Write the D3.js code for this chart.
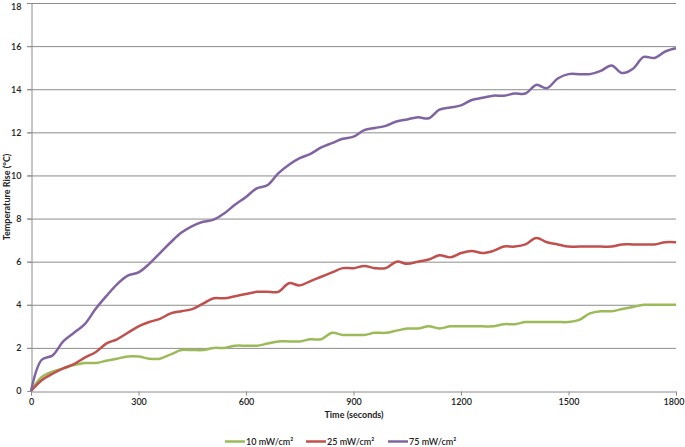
<!DOCTYPE html>
<html><head><meta charset="utf-8">
<script src="https://cdn.jsdelivr.net/npm/d3@7"></script>
<style>body{margin:0;background:#fff}svg{display:block}text{font-family:Lato,"Open Sans",sans-serif;fill:#222}</style>
</head><body><svg id="c" width="685" height="447"></svg>
<script>
const times = d3.range(0, 1801, 30);
const series10 = [0,0.65,0.9,1.05,1.2,1.3,1.3,1.4,1.5,1.6,1.6,1.5,1.5,1.7,1.9,1.9,1.9,2.0,2.0,2.1,2.1,2.1,2.2,2.3,2.3,2.3,2.4,2.4,2.7,2.6,2.6,2.6,2.7,2.7,2.8,2.9,2.9,3.0,2.9,3.0,3.0,3.0,3.0,3.0,3.1,3.1,3.2,3.2,3.2,3.2,3.2,3.3,3.6,3.7,3.7,3.8,3.9,4.0,4.0,4.0,4.0];
const series25 = [0,0.5,0.8,1.05,1.25,1.55,1.8,2.2,2.4,2.7,3.0,3.2,3.35,3.6,3.7,3.8,4.05,4.3,4.3,4.4,4.5,4.6,4.6,4.6,5.0,4.9,5.1,5.3,5.5,5.7,5.7,5.8,5.7,5.7,6.0,5.9,6.0,6.1,6.3,6.2,6.4,6.5,6.4,6.5,6.7,6.7,6.8,7.1,6.9,6.8,6.7,6.7,6.7,6.7,6.7,6.8,6.8,6.8,6.8,6.9,6.9];
const series75 = [0,1.45,1.65,2.3,2.7,3.1,3.8,4.4,4.95,5.35,5.5,5.9,6.4,6.9,7.35,7.65,7.85,7.95,8.25,8.65,9.0,9.4,9.55,10.1,10.5,10.8,11.0,11.3,11.5,11.7,11.8,12.1,12.2,12.3,12.5,12.6,12.7,12.65,13.05,13.15,13.25,13.5,13.6,13.7,13.7,13.8,13.8,14.2,14.05,14.5,14.7,14.7,14.7,14.85,15.1,14.75,14.95,15.5,15.45,15.75,15.9];
const seriesNames = ["10 mW/cm\u00B2","25 mW/cm\u00B2","75 mW/cm\u00B2"];
const seriesColors = ["#9BBB59","#C0504D","#8064A2"];
const xTicks = [0,300,600,900,1200,1500,1800];
const yTicks = [0,2,4,6,8,10,12,14,16,18];

const svg = d3.select("#c");
const x = d3.scaleLinear().domain([0,1800]).range([31,676]);
const y = d3.scaleLinear().domain([0,18]).range([391,3]);
const grid = "#8c8c8c";

svg.append("g").selectAll("line").data(yTicks.slice(1)).join("line")
  .attr("x1",27).attr("x2",676).attr("y1",d=>y(d)+0.5).attr("y2",d=>y(d)+0.5)
  .attr("stroke",grid).attr("stroke-width",1);

const ya = svg.append("g").attr("transform","translate(31.5,0)").call(d3.axisLeft(y).tickValues(yTicks).tickSize(4).tickPadding(6));
ya.select(".domain").attr("stroke",grid);
ya.selectAll(".tick line").attr("stroke",grid);
ya.selectAll(".tick text").attr("font-size",9).attr("font-weight",600).attr("fill","#222")
  .attr("dy",d=>d===18?"0.75em":"0.32em");

const xa = svg.append("g").attr("transform","translate(0,391.5)").call(d3.axisBottom(x).tickValues(xTicks).tickSize(4).tickPadding(3).tickFormat(d3.format("d")));
xa.select(".domain").attr("stroke",grid);
xa.selectAll(".tick line").attr("stroke",grid);
xa.selectAll(".tick text").attr("font-size",9).attr("font-weight",600).attr("fill","#222")
  .attr("text-anchor",d=>d===1800?"end":"middle").attr("dx",d=>d===1800?"8":"0");

const allSeries = [series10, series25, series75];
const line = d3.line().x((d,i)=>x(times[i])).y(d=>y(d)).curve(d3.curveCatmullRom.alpha(0.5));
allSeries.forEach((s,k)=>{
  svg.append("path").attr("d",line(s)).attr("fill","none")
    .attr("stroke",seriesColors[k]).attr("stroke-width",2.5).attr("stroke-linejoin","round");
});

svg.append("text").attr("x",354).attr("y",418).attr("text-anchor","middle")
  .attr("font-size",9).attr("font-weight",700).text("Time (seconds)");
svg.append("text").attr("transform","translate(10,197) rotate(-90)").attr("text-anchor","middle")
  .attr("font-size",9).attr("font-weight",700).text("Temperature Rise (\u00B0C)");

const lx = [225,306,388];
seriesNames.forEach((n,k)=>{
  svg.append("line").attr("x1",lx[k]).attr("x2",lx[k]+20).attr("y1",441.5).attr("y2",441.5)
    .attr("stroke",seriesColors[k]).attr("stroke-width",2.5);
  svg.append("text").attr("x",lx[k]+21).attr("y",445).attr("font-size",9).attr("font-weight",600).text(n);
});
</script></body></html>
